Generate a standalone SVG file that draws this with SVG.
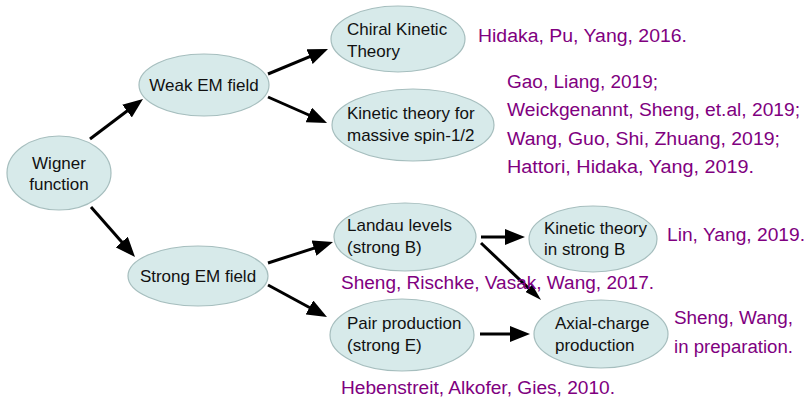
<svg xmlns="http://www.w3.org/2000/svg" width="808" height="397" viewBox="0 0 808 397">
<defs>
<marker id="ah" markerUnits="userSpaceOnUse" markerWidth="20" markerHeight="16" refX="10" refY="8" orient="auto"><path d="M0,0 L20,8 L0,16 z" fill="#000"/></marker>
<marker id="ahn" markerUnits="userSpaceOnUse" markerWidth="17" markerHeight="10" refX="7" refY="5" orient="auto"><path d="M0,0 L17,5 L0,10 z" fill="#000"/></marker>
<style>
.n{fill:#d7eaea;stroke:#a6bebe;stroke-width:1.2}
.t{font-family:"Liberation Sans",Arial,sans-serif;font-size:17px;fill:#111}
.c{text-anchor:middle}
.r{font-family:"Liberation Sans",Arial,sans-serif;font-size:18px;fill:#800080}
.e{stroke:#000;stroke-width:3;fill:none}
</style>
</defs>
<rect width="808" height="397" fill="#fff"/>
<g id="connectors">
<line class="e" x1="90" y1="139" x2="135" y2="105" marker-end="url(#ah)"/>
<line class="e" x1="91" y1="207" x2="128.4" y2="249.5" marker-end="url(#ah)"/>
<line class="e" x1="268" y1="74" x2="318.8" y2="52.8" marker-end="url(#ah)"/>
<line class="e" x1="268" y1="97" x2="317.9" y2="119" marker-end="url(#ah)"/>
<line class="e" x1="268" y1="263" x2="323.5" y2="245.1" marker-end="url(#ah)"/>
<line class="e" x1="268" y1="285" x2="318.2" y2="312.2" marker-end="url(#ah)"/>
<line class="e" x1="481" y1="237" x2="515" y2="237" marker-end="url(#ah)"/>
<line class="e" x1="481" y1="243" x2="533.8" y2="293.1" marker-end="url(#ahn)"/>
<line class="e" x1="480" y1="334" x2="520" y2="334" marker-end="url(#ah)"/>
</g>
<g id="wigner"><ellipse class="n" cx="59" cy="173" rx="52" ry="37"/><text class="t c" x="59" y="169">Wigner</text><text class="t c" x="59" y="190">function</text></g>
<g id="weak"><ellipse class="n" cx="204" cy="85" rx="65" ry="31"/><text class="t c" x="204" y="91">Weak EM field</text></g>
<g id="strong"><ellipse class="n" cx="198" cy="276" rx="70" ry="30"/><text class="t c" x="198" y="282">Strong EM field</text></g>
<g id="chiral"><ellipse class="n" cx="398" cy="39" rx="67" ry="33"/><text class="t" x="347" y="35">Chiral Kinetic</text><text class="t" x="347" y="57">Theory</text></g>
<g id="massive"><ellipse class="n" cx="413" cy="125" rx="81" ry="36"/><text class="t" x="347" y="119">Kinetic theory for</text><text class="t" x="347" y="141">massive spin-1/2</text></g>
<g id="landau"><ellipse class="n" cx="405" cy="237" rx="71" ry="34"/><text class="t" x="347" y="231">Landau levels</text><text class="t" x="347" y="253">(strong B)</text></g>
<g id="ktb"><ellipse class="n" cx="593" cy="239" rx="64" ry="33"/><text class="t" x="544" y="234">Kinetic theory</text><text class="t" x="544" y="255">in strong B</text></g>
<g id="pair"><ellipse class="n" cx="402" cy="335" rx="72" ry="36"/><text class="t" x="347" y="329">Pair production</text><text class="t" x="347" y="351">(strong E)</text></g>
<g id="axial"><ellipse class="n" cx="601" cy="334" rx="67" ry="34"/><text class="t" x="555" y="329">Axial-charge</text><text class="t" x="555" y="351">production</text></g>
<g id="refs">
<text class="r" x="478" y="42" textLength="209" lengthAdjust="spacingAndGlyphs">Hidaka, Pu, Yang, 2016.</text>
<text class="r" x="507" y="88" textLength="151" lengthAdjust="spacingAndGlyphs">Gao, Liang, 2019;</text>
<text class="r" x="507" y="116" textLength="293" lengthAdjust="spacingAndGlyphs">Weickgenannt, Sheng, et.al, 2019;</text>
<text class="r" x="507" y="145" textLength="273" lengthAdjust="spacingAndGlyphs">Wang, Guo, Shi, Zhuang, 2019;</text>
<text class="r" x="507" y="173" textLength="247" lengthAdjust="spacingAndGlyphs">Hattori, Hidaka, Yang, 2019.</text>
<text class="r" x="667" y="241" textLength="138" lengthAdjust="spacingAndGlyphs">Lin, Yang, 2019.</text>
<text class="r" x="341" y="289" textLength="313" lengthAdjust="spacingAndGlyphs">Sheng, Rischke, Vasak, Wang, 2017.</text>
<text class="r" x="674" y="324" textLength="119" lengthAdjust="spacingAndGlyphs">Sheng, Wang,</text>
<text class="r" x="674" y="353" textLength="119" lengthAdjust="spacingAndGlyphs">in preparation.</text>
<text class="r" x="341" y="394" textLength="274" lengthAdjust="spacingAndGlyphs">Hebenstreit, Alkofer, Gies, 2010.</text>
</g>
</svg>
